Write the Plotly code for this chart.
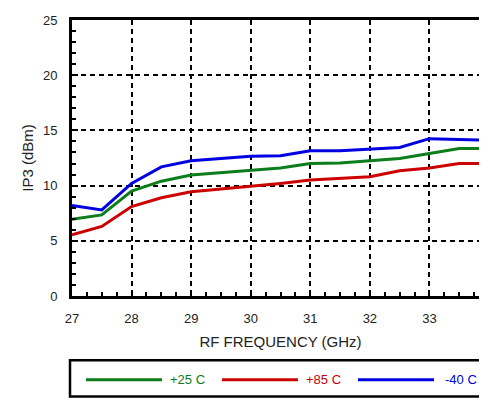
import plotly.graph_objects as go

freq = [27, 27.5, 28, 28.5, 29, 29.5, 30, 30.5, 31, 31.5, 32, 32.5, 33, 33.5, 34]
ip3_p25 = [6.95, 7.35, 9.5, 10.4, 10.95, 11.15, 11.4, 11.6, 12.0, 12.05, 12.25, 12.45, 12.9, 13.35, 13.35]
ip3_p85 = [5.55, 6.3, 8.1, 8.9, 9.45, 9.7, 9.9, 10.2, 10.5, 10.65, 10.8, 11.35, 11.6, 12.0, 12.0]
ip3_m40 = [8.2, 7.8, 10.2, 11.7, 12.25, 12.45, 12.65, 12.7, 13.15, 13.15, 13.3, 13.45, 14.25, 14.2, 14.1]

series_names = ["+25 C", "+85 C", "-40 C"]
series_colors = ["#0b7d1a", "#cc0000", "#0000e0"]
series_values = [ip3_p25, ip3_p85, ip3_m40]

x_ticks = [27, 28, 29, 30, 31, 32, 33, 34]
y_ticks = [0, 5, 10, 15, 20, 25]

FONT = "Liberation Sans, Arial, Helvetica, sans-serif"

fig = go.Figure()
for name, color, vals in zip(series_names, series_colors, series_values):
    fig.add_trace(go.Scatter(x=freq, y=vals, mode="lines", name=name,
                             line=dict(color=color, width=3), showlegend=False))

# page has an 8px body margin; figure is wider than the window so the
# right end of the plot falls just off-screen, as in the reference
OFF = 8
L, T, B, R = 72 - OFF, 13 - OFF, 112, 20
PW = 417.0
PH = 283.0
W = int(L + PW + R)
H = int(T + PH + B)

def px(xp):
    return (xp - 72) / PW

def py(yp):
    return (296 - yp) / PH

fig.update_layout(
    width=W, height=H,
    margin=dict(l=L, r=R, t=T, b=B),
    paper_bgcolor="white", plot_bgcolor="white",
    font=dict(family=FONT, size=13, color="#222"),
    xaxis=dict(
        range=[27, 34],
        tickvals=x_ticks, ticktext=[str(v) for v in x_ticks],
        showline=True, linecolor="black", linewidth=3, mirror=True,
        ticks="inside", ticklen=6, tickwidth=2, tickcolor="black",
        showgrid=True, gridcolor="black", gridwidth=2, griddash="5px,4px",
        minor=dict(dtick=0.25, ticks="inside", ticklen=4, tickwidth=2, tickcolor="black", showgrid=False),
        zeroline=False,
        ticklabelstandoff=8,
        tickfont=dict(size=13, color="#222"),
        title=dict(text="RF FREQUENCY (GHz)", font=dict(size=15, color="#222"), standoff=12),
    ),
    yaxis=dict(
        range=[0, 25],
        tickvals=y_ticks, ticktext=[str(v) for v in y_ticks],
        showline=True, linecolor="black", linewidth=3, mirror=False,
        ticks="inside", ticklen=6, tickwidth=2, tickcolor="black",
        showgrid=True, gridcolor="black", gridwidth=2, griddash="5px,4px",
        minor=dict(dtick=1, ticks="inside", ticklen=4, tickwidth=2, tickcolor="black", showgrid=False),
        zeroline=False,
        ticklabelstandoff=9,
        tickfont=dict(size=13, color="#222"),
        title=dict(text="IP3 (dBm)", font=dict(size=15, color="#222"), standoff=6),
    ),
)

# legend box drawn manually (long sample lines)
fig.add_shape(type="rect", xref="paper", yref="paper",
              x0=px(70), x1=px(560), y0=py(399), y1=py(362),
              line=dict(color="black", width=2.5), fillcolor="white", layer="above")
line_starts = [86, 222, 358]
text_starts = [168, 304, 443]
for name, color, xs, xt in zip(series_names, series_colors, line_starts, text_starts):
    fig.add_shape(type="line", xref="paper", yref="paper",
                  x0=px(xs), x1=px(xs + 76), y0=py(382), y1=py(382),
                  line=dict(color=color, width=3), layer="above")
    fig.add_annotation(xref="paper", yref="paper", x=px(xt), y=py(382),
                       text=name, showarrow=False, xanchor="left", yanchor="middle",
                       font=dict(family=FONT, size=13, color=color))

fig.write_html("out.html")
